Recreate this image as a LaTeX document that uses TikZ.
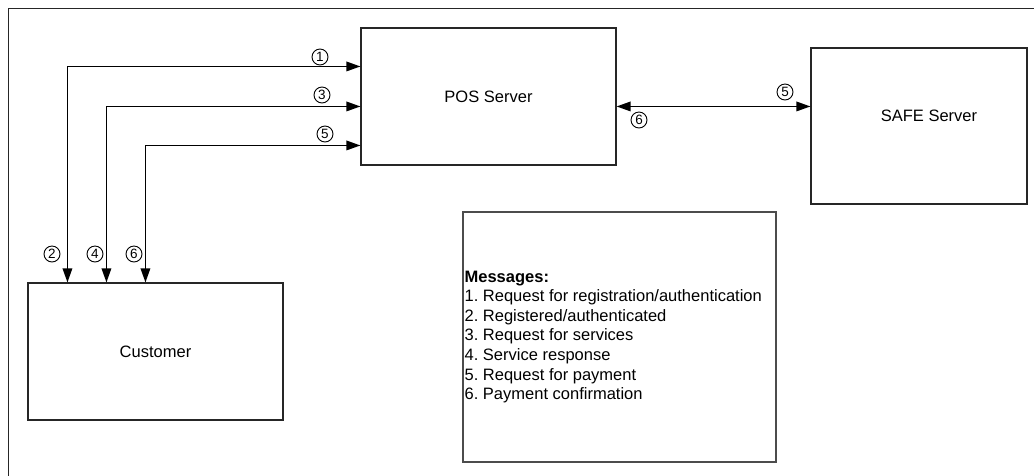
\documentclass[tikz,border=0pt]{standalone}
\usepackage{fontspec}
\setmainfont{Liberation Sans}
\usetikzlibrary{arrows.meta}
\frenchspacing
\begin{document}
\begin{tikzpicture}[x=1pt,y=-1pt,
  box/.style={draw=black!85, line width=1.1pt, rectangle, inner sep=0pt,
    font=\fontsize{16.5}{19.6}\selectfont},
  link/.style={line width=1.6pt,
    {Triangle[length=14pt,width=9.5pt]}-{Triangle[length=14pt,width=9.5pt]}},
  num/.style={circle, draw, line width=0.9pt, minimum size=16pt, inner sep=0pt,
    font=\fontsize{13.5}{13.5}\selectfont},
  legend/.style={align=left, anchor=west, inner sep=0pt,
    font=\fontsize{16.5}{19.6}\selectfont}]
\useasboundingbox (0,0) rectangle (1034,475);

% outer frame
\draw[line width=0.9pt, black!85] (8,480) -- (8,8) -- (1040,8);

% main blocks
\node[box, minimum width=255pt, minimum height=137pt] (pos) at (488.5,96.5) {POS Server};
\node[box, minimum width=255pt, minimum height=137pt] (cust) at (155.5,351.5) {Customer};
\node[box, minimum width=216pt, minimum height=156pt,
  label={[xshift=10pt, yshift=10pt, font=\fontsize{16.5}{19.6}\selectfont]center:SAFE Server}]
  (safe) at (919,126) {};

% message legend
\node[box, draw=black!70, minimum width=313pt, minimum height=250pt] (msgs) at (619.5,337) {};
\node[legend] (msgtext) at ([xshift=2pt]msgs.west) {\textbf{Messages:}\\
1. Request for registration/authentication\\
2. Registered/authenticated\\
3. Request for services\\
4. Service response\\
5. Request for payment\\
6. Payment confirmation};

% customer <-> POS server
\draw[link] ([xshift=40pt]cust.north west) |- ([yshift=-39pt]pos.north west);
\draw[link] ([xshift=79pt]cust.north west) |- ([yshift=-79pt]pos.north west);
\draw[link] ([xshift=118pt]cust.north west) |- ([yshift=-118pt]pos.north west);

% POS server <-> SAFE server
\coordinate (pe) at ([yshift=-79pt]pos.north east);
\draw[link] (pe) -- (pe -| safe.west);

% message numbers
\node[num] (n1) at (320,57) {1};
\node[num] (n3) at (322,95) {3};
\node[num] (n5) at (325,134) {5};
\node[num] (n2) at (52,254) {2};
\node[num] (n4) at (95,254) {4};
\node[num] (n6) at (134,254) {6};
\node[num] (m5) at (785,92) {5};
\node[num] (m6) at (639,120) {6};
\end{tikzpicture}
\end{document}
